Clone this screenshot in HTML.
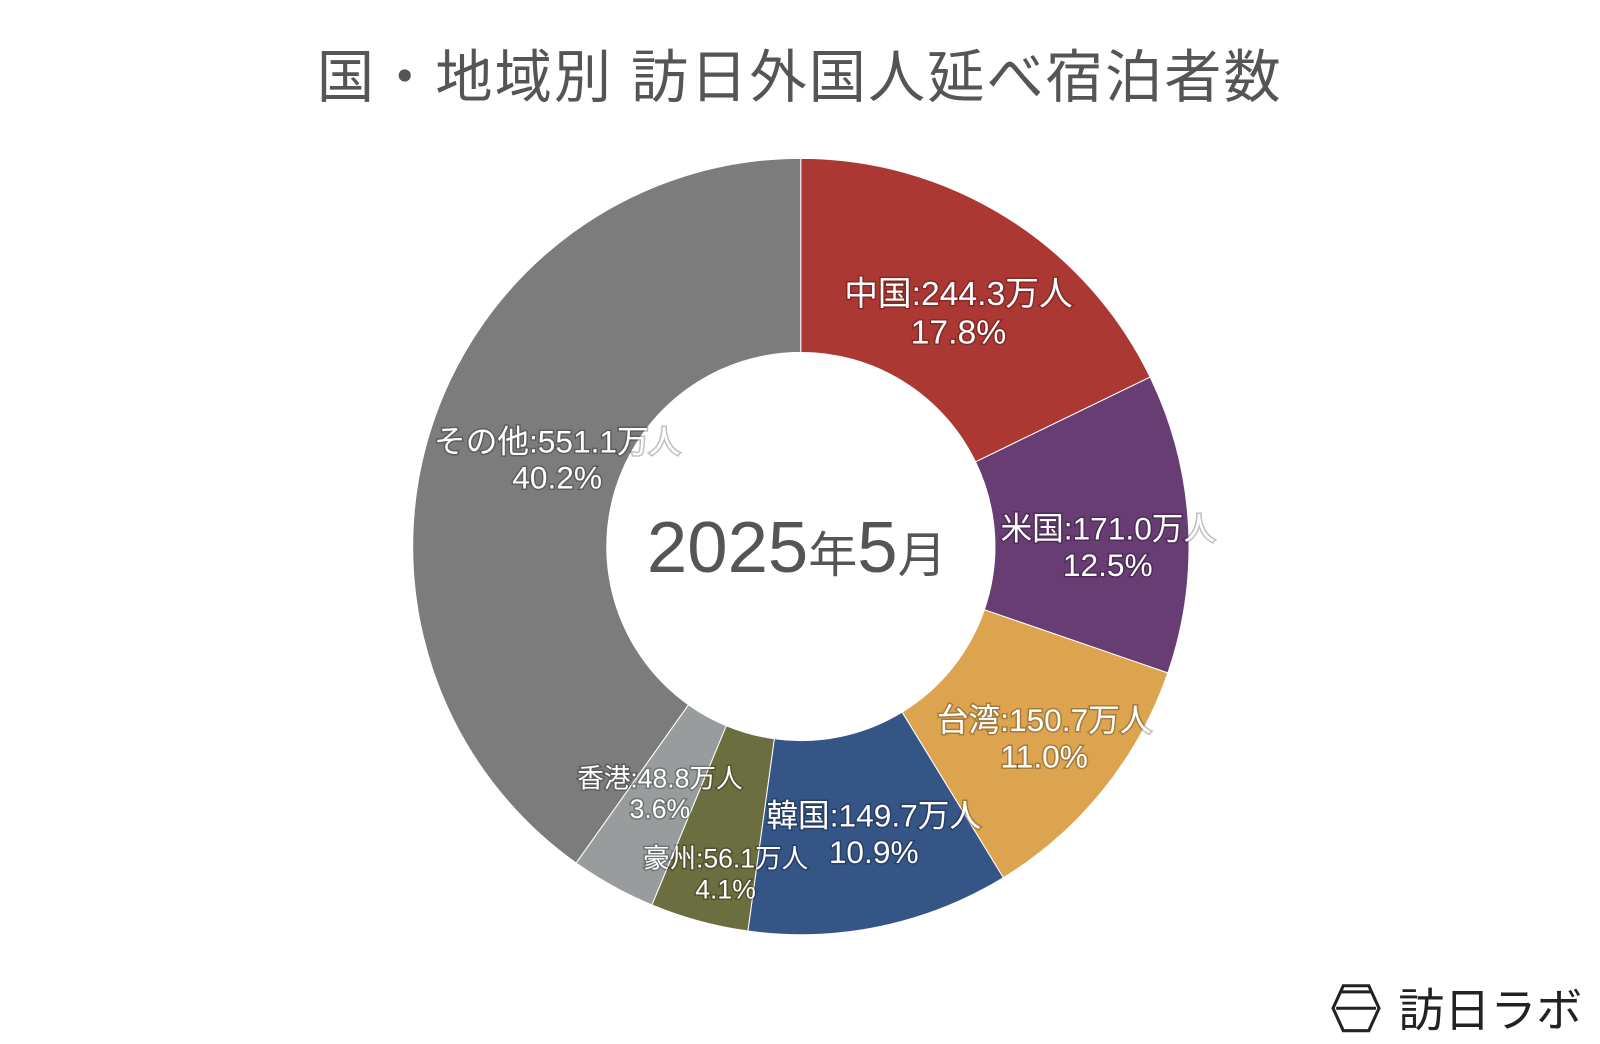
<!DOCTYPE html>
<html><head><meta charset="utf-8">
<style>
body{margin:0;width:1600px;height:1044px;background:#fff;overflow:hidden;font-family:"Liberation Sans","Noto Sans CJK JP",sans-serif;}
#wrap{position:absolute;left:0;top:0;width:1566px;height:1022px;transform:scale(1.0215);transform-origin:0 0;}
#title{position:absolute;left:0;width:1566px;top:31px;text-align:center;font-size:56px;color:#555;letter-spacing:2px;}
svg{position:absolute;left:0;top:0;}
.lbl{fill:#fff;font-family:"Liberation Sans","Noto Sans CJK JP",sans-serif;text-anchor:middle;paint-order:stroke;stroke:rgba(0,0,0,0.25);stroke-width:3px;}
</style></head><body>
<div id="wrap">
<div id="title">国・地域別 訪日外国人延べ宿泊者数</div>
<svg id="chart" width="1566" height="1022">
<text x="780" y="560" text-anchor="middle" fill="#555" font-size="71" font-family="Liberation Sans, Noto Sans CJK JP, sans-serif">2025<tspan font-size="48">年</tspan>5<tspan font-size="48">月</tspan></text>
<g transform="translate(1305,965)">
<polygon points="10,0 35,0 45,22 35,44 10,44 0,22" fill="none" stroke="#222" stroke-width="3"/>
<line x1="3" y1="22" x2="42" y2="22" stroke="#222" stroke-width="3"/>
<line x1="8" y1="6" x2="37" y2="6" stroke="#222" stroke-width="3"/>
<text x="64" y="40" font-size="45" fill="#222" font-family="Liberation Sans, Noto Sans CJK JP, sans-serif">訪日ラボ</text>
</g>
</svg>
</div>
<script>
const categories=["中国","米国","台湾","韓国","豪州","香港","その他"];
const values=[244.3,171.0,150.7,149.7,56.1,48.8,551.1];
const percents=["17.8%","12.5%","11.0%","10.9%","4.1%","3.6%","40.2%"];
const colors=["#ac3834","#673d73","#dda44f","#365587","#6b6e3f","#999c9d","#7b7c7b"];
const labelDx=[3,16,16,13,1,0,33];
const labelDy=[12,17,9,2,45,-8,1];
const fontSizes=[33,31,31,31,26,26,31];
const cx=784,cy=535,R=380,r=190,LR=285;
const svg=document.getElementById('chart');
const ns="http://www.w3.org/2000/svg";
const total=values.reduce((a,b)=>a+b,0);
function pt(a,rad){return [cx+rad*Math.sin(a),cy-rad*Math.cos(a)];}
let acc=0;
const labels=[];
values.forEach((v,i)=>{
  const a0=acc/total*2*Math.PI; acc+=v; const a1=acc/total*2*Math.PI;
  const big=(a1-a0)>Math.PI?1:0;
  const [x0,y0]=pt(a0,R),[x1,y1]=pt(a1,R),[x2,y2]=pt(a1,r),[x3,y3]=pt(a0,r);
  const p=document.createElementNS(ns,'path');
  p.setAttribute('d',`M${x0},${y0}A${R},${R} 0 ${big} 1 ${x1},${y1}L${x2},${y2}A${r},${r} 0 ${big} 0 ${x3},${y3}Z`);
  p.setAttribute('fill',colors[i]);p.setAttribute('stroke','#fff');p.setAttribute('stroke-width','1');
  
  
  svg.insertBefore(p,svg.firstChild);
  const am=(a0+a1)/2;let [lx,ly]=pt(am,LR);
  lx+=labelDx[i];ly+=labelDy[i];
  const fs=fontSizes[i];const lh=fs*1.15;
  const t=document.createElementNS(ns,'text');
  t.setAttribute('class','lbl');t.setAttribute('font-size',fs);
  t.setAttribute('x',lx);t.setAttribute('y',ly-lh/2+fs*0.36);
  
  
  const s1=document.createElementNS(ns,'tspan');s1.setAttribute('x',lx);
  s1.textContent=categories[i]+":"+v.toFixed(1)+"万人";
  const s2=document.createElementNS(ns,'tspan');s2.setAttribute('x',lx);s2.setAttribute('dy',lh);
  s2.textContent=percents[i];
  t.appendChild(s1);t.appendChild(s2);labels.push(t);
});
labels.forEach(t=>svg.appendChild(t));
</script>
</body></html>
